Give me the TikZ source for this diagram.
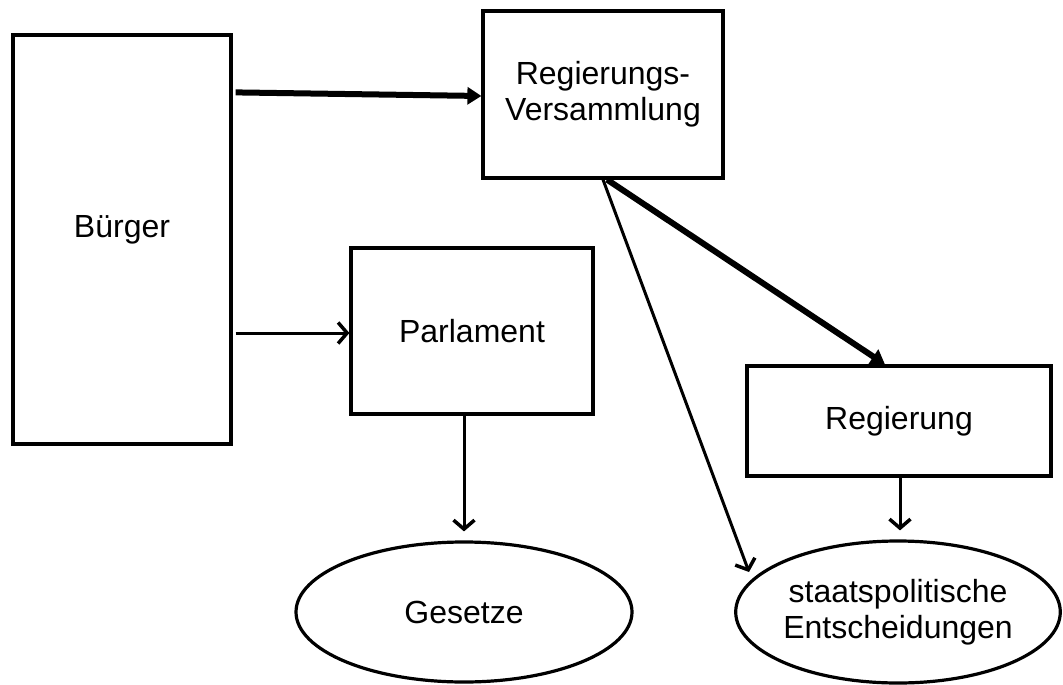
\documentclass[tikz,border=0pt]{standalone}
\usepackage{fontspec}
\setmainfont{Liberation Sans}
\usetikzlibrary{arrows.meta,shapes.geometric}
\begin{document}
\begin{tikzpicture}[x=1pt,y=-1pt,
  every node/.style={font=\fontsize{32}{36}\selectfont, align=center, inner sep=0pt},
  box/.style={draw, line width=3.2pt, rectangle},
  oval/.style={draw, line width=3.2pt, ellipse},
  thickarrow/.style={line width=6pt, -{Triangle[length=14pt,width=17pt]}},
  thinarrow/.style={line width=3pt, -{Straight Barb[length=9pt,width=21pt,line width=3.5pt]}}]
\useasboundingbox (0,0) rectangle (1063,685);
\node[box, minimum width=218pt, minimum height=409pt] (B) at (122,239.5) {};
\node (Bt) at ([yshift=10pt]B.center) {Bürger};
\node[box, minimum width=240pt, minimum height=167pt] (RV) at (603,94.5) {Regierungs-\\Versammlung};
\node[box, minimum width=242pt, minimum height=166pt] (P) at (472,331) {Parlament};
\node[box, minimum width=304pt, minimum height=110pt] (R) at (899,421) {Regierung};
\node[oval, minimum width=336pt, minimum height=140pt] (G) at (464,612) {Gesetze};
\node[oval, minimum width=322pt, minimum height=142pt] (E) at (898,612) {staatspolitische\\Entscheidungen};
\draw[thickarrow] ([xshift=3pt,yshift=-59pt]B.north east) -- ([yshift=-1.5pt]RV.west);
\draw[thinarrow] ([xshift=3pt]B.east |- P.west) ++(0,2) -- ([yshift=-2pt]P.west);
\draw[thinarrow] ([xshift=-8pt]P.south) -- ([yshift=9pt]G.north);
\draw[thickarrow] ([xshift=4pt]RV.south) -- ([xshift=-14pt]R.north);
\draw[thinarrow] (RV.south) -- ([xshift=-149pt,yshift=40pt]E.center);
\draw[thinarrow] ([xshift=1pt]R.south) -- ([xshift=2pt,yshift=9pt]E.north);
\end{tikzpicture}
\end{document}
